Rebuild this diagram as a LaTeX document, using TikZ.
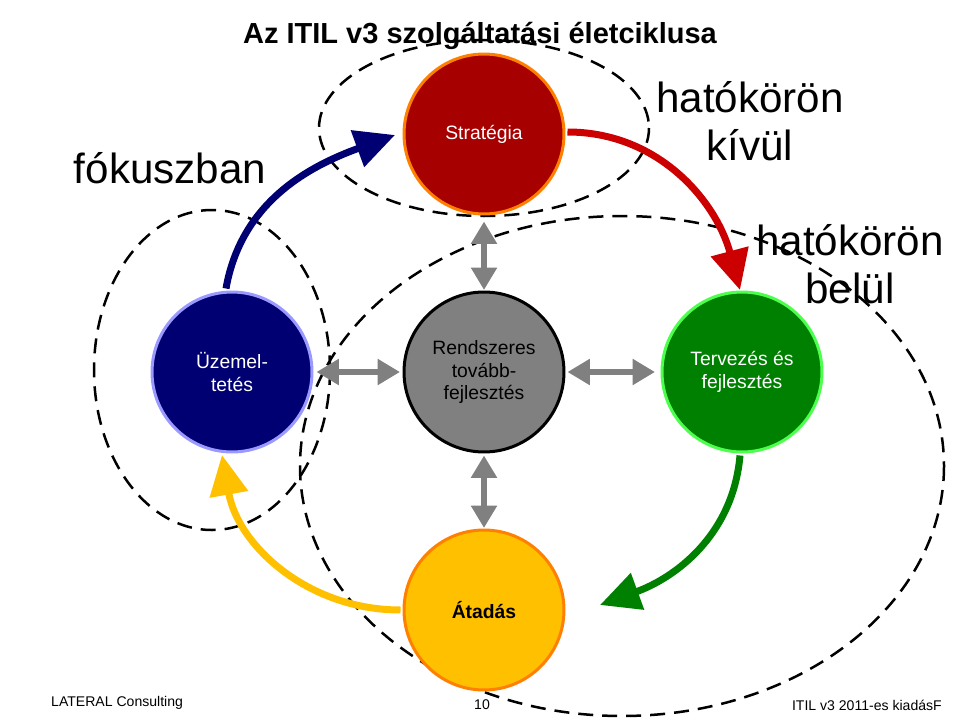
\documentclass[tikz,border=0pt]{standalone}
\usepackage{fontspec}
\setmainfont{Liberation Sans}
\usetikzlibrary{arrows.meta}
\colorlet{colorSTR}{red!65!black}
\colorlet{colorOPS}{blue!45!black}
\colorlet{colorCSI}{gray}
\colorlet{colorDES}{green!50!black}
\definecolor{colorTRN}{RGB}{255,192,0}
\tikzset{
   every path/.style={>=stealth},
   phase/.style={circle,minimum size=3.2cm,line width=0.06cm,inner sep=0pt,align=center,font=\fontsize{11}{13}\selectfont},
   scope/.style={dashed,line width=0.05cm,dash pattern=on 0.3cm off 0.18cm},
   cycle/.style={line width=0.14cm,-{Triangle[length=0.8cm,width=0.75cm]}},
   link/.style={line width=0.12cm,color=gray,{Triangle[length=0.45cm,width=0.5cm]}-{Triangle[length=0.45cm,width=0.5cm]}},
   big/.style={font=\fontsize{24}{27}\selectfont,align=center},
 }
\begin{document}
\begin{tikzpicture}[x=0.02cm,y=-0.02cm]
      \useasboundingbox (0,0) rectangle (960,720);
      \node[font=\bfseries\fontsize{16.5}{20}\selectfont] (title) at (480,36) {Az ITIL v3 szolgáltatási életciklusa};

      % dashed scopes
      \draw[scope] (484,128) ellipse (165 and 88);
      \draw[scope] (212,370) ellipse (118 and 160);
      \draw[scope] (622,466) ellipse (322 and 250);

      \node[phase,fill=colorSTR,draw=orange,text=white] (STR) at (484,134) {Stratégia};
      \node[phase,fill=colorOPS,draw=blue!40!white,text=white] (OPS) at (232,372) {Üzemel-\\tetés};
      \node[phase,fill=colorCSI,draw=black] (CSI) at (484,372) {Rendszeres\\tovább-\\fejlesztés};
      \node[phase,fill=colorDES,draw=green!70!white,text=white] (DES) at (742,372) {Tervezés és\\fejlesztés};
      \node[phase,fill=colorTRN,draw=orange,font=\bfseries\fontsize{11}{13}\selectfont] (TRN) at (484,610) {Átadás};

      % cycle
      \draw[cycle,color=colorOPS] (OPS.north) ++(-6,-2) to[out=80,in=200] (395,135);
      \draw[cycle,color=red!80!black] (STR.east) ++(2,-2) to[out=0,in=105] (740,290);
      \draw[cycle,color=colorDES] (DES.south) ++(-2,2) to[out=-95,in=20] (600,605);
      \draw[cycle,color=colorTRN] (TRN.west) ++(-2,0) to[out=180,in=-80] (222,455);

      % links
      \draw[link] (STR.south) ++(0,6) -- (484,290);
      \draw[link] (CSI.south) ++(0,2) -- (484,528);
      \draw[link] (OPS.east) ++(3,0) -- (400,372);
      \draw[link] (CSI.east) ++(2,0) -- (655,372);

      \node[big] (focus) at (170,168) {fókuszban};
      \node[big] (outside) at (750,121) {hatókörön\\kívül};
      \node[big] (inside) at (850,264) {hatókörön\\belül};

      \node[font=\fontsize{8}{9}\selectfont,anchor=west] (foot1) at (45,703) {LATERAL Consulting};
      \node[font=\fontsize{8}{9}\selectfont] (foot2) at (482,705) {10};
      \node[font=\fontsize{8}{9}\selectfont,anchor=east] (foot3) at (948,705) {ITIL v3 2011-es kiadásF};
    \end{tikzpicture}
\end{document}
